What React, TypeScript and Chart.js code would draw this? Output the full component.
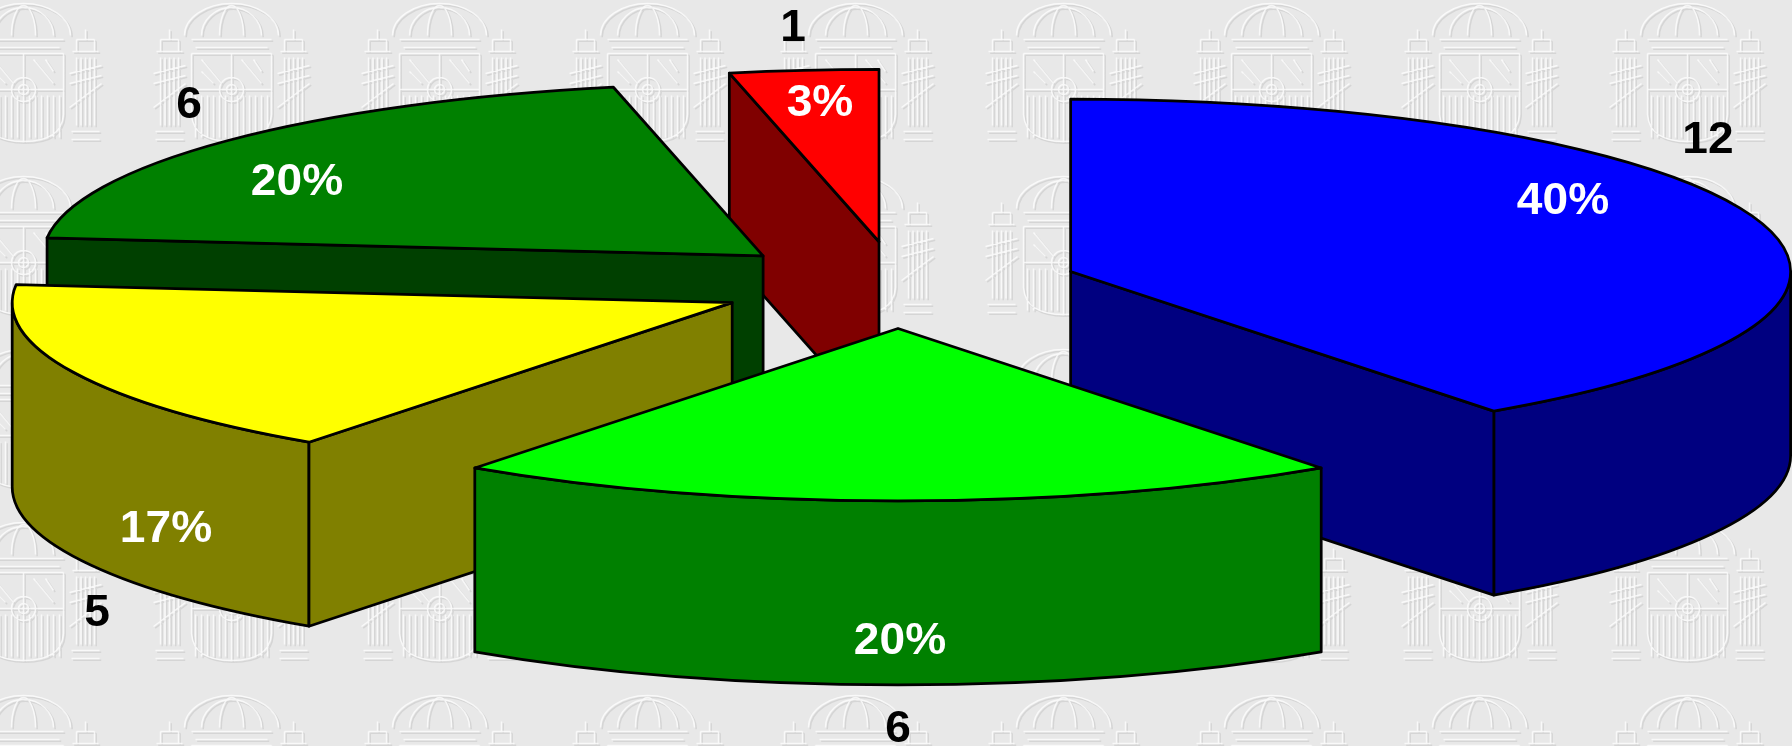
import React, { useEffect, useRef } from "react";
import { Chart, registerables } from "chart.js";

Chart.register(...registerables);

const categories = ["A", "B", "C", "D", "E"];
const counts = [12, 6, 5, 6, 1];
const percents = ["40%", "20%", "17%", "20%", "3%"];
const topColors = ["#0000ff", "#00ff00", "#ffff00", "#008000", "#ff0000"];
const wallColors = ["#000080", "#008000", "#808000", "#004000", "#800000"];

const W = 1792;
const H = 746;
const RADIUS = 720;
const TILT = 0.2395;
const EXPLODE = 181.5;
const DEPTH = 184;
const CX = 898;
const CY = 285;
// label anchors relative to the pie centre
const pctOffsets = [[665, -86], [2, 354], [-732, 242], [-601, -105], [-78, -184]];
const countOffsets = [[810, -147], [0, 442], [-801, 326], [-709, -182], [-105, -259]];

function emblemPath(c: CanvasRenderingContext2D, cx: number) {
  c.beginPath();
  // crown
  c.ellipse(cx, 36, 47, 32, 0, Math.PI, 2 * Math.PI);
  c.moveTo(cx - 30, 36);
  c.ellipse(cx, 36, 30, 28, 0, Math.PI, 2 * Math.PI);
  c.moveTo(cx - 12, 36);
  c.ellipse(cx, 36, 12, 30, 0, Math.PI, 2 * Math.PI);
  c.moveTo(cx - 40, 40);
  c.lineTo(cx + 40, 40);
  c.moveTo(cx - 36, 48);
  c.lineTo(cx + 36, 48);
  // shield
  c.moveTo(cx - 40, 54);
  c.lineTo(cx - 40, 115);
  c.quadraticCurveTo(cx - 38, 142, cx, 142);
  c.quadraticCurveTo(cx + 38, 142, cx + 40, 115);
  c.lineTo(cx + 40, 54);
  c.moveTo(cx - 40, 54);
  c.lineTo(cx + 40, 54);
  c.moveTo(cx - 40, 90);
  c.lineTo(cx + 40, 90);
  c.moveTo(cx, 54);
  c.lineTo(cx, 142);
  for (let i = -36; i <= 36; i += 6) {
    c.moveTo(cx + i, 96);
    c.lineTo(cx + i, 138);
  }
  c.moveTo(cx + 12, 90);
  c.arc(cx, 90, 12, 0, 2 * Math.PI);
  c.moveTo(cx + 5, 90);
  c.arc(cx, 90, 5, 0, 2 * Math.PI);
  c.moveTo(cx - 30, 60);
  c.lineTo(cx - 10, 84);
  c.moveTo(cx - 30, 72);
  c.lineTo(cx - 18, 84);
  c.moveTo(cx + 10, 60);
  c.lineTo(cx + 30, 84);
  c.moveTo(cx + 22, 60);
  c.lineTo(cx + 30, 72);
  // pillars
  for (const px of [cx - 62, cx + 62]) {
    c.moveTo(px - 13, 52);
    c.lineTo(px + 13, 52);
    c.moveTo(px - 9, 40);
    c.lineTo(px - 9, 52);
    c.moveTo(px + 9, 40);
    c.lineTo(px + 9, 52);
    c.moveTo(px - 9, 40);
    c.lineTo(px + 9, 40);
    c.moveTo(px, 40);
    c.lineTo(px, 30);
    for (let i = -9; i <= 9; i += 4.5) {
      c.moveTo(px + i, 58);
      c.lineTo(px + i, 126);
    }
    c.moveTo(px - 16, 74);
    c.lineTo(px + 16, 66);
    c.moveTo(px - 16, 84);
    c.lineTo(px + 16, 76);
    c.moveTo(px - 16, 108);
    c.lineTo(px + 16, 84);
    c.moveTo(px - 14, 132);
    c.lineTo(px + 14, 132);
    c.moveTo(px - 14, 140);
    c.lineTo(px + 14, 140);
  }
}

function makeTile(ctx: CanvasRenderingContext2D) {
  const t = document.createElement("canvas");
  t.width = 208;
  t.height = 173;
  const c = t.getContext("2d")!;
  c.fillStyle = "#e8e8e8";
  c.fillRect(0, 0, t.width, t.height);
  const cx = 105;
  c.lineWidth = 1.5;
  c.filter = "blur(0.7px)";
  c.save();
  c.translate(1.2, 1.2);
  c.strokeStyle = "rgba(185,185,185,0.4)";
  emblemPath(c, cx);
  c.stroke();
  c.restore();
  c.save();
  c.translate(-0.5, -0.5);
  c.strokeStyle = "rgba(255,255,255,0.75)";
  emblemPath(c, cx);
  c.stroke();
  c.restore();
  return ctx.createPattern(t, "repeat")!;
}

const backdrop = {
  id: "backdrop",
  beforeDraw(chart: any) {
    const { ctx } = chart;
    ctx.save();
    // tile shifted so the emblems fall on the same columns as the reference
    ctx.translate(-81, 0);
    ctx.fillStyle = makeTile(ctx);
    ctx.fillRect(0, 0, W + 81, H);
    ctx.restore();
  },
};

const pie3d = {
  id: "pie3d",
  beforeDatasetDraw(chart: any, args: any) {
    const { ctx } = chart;
    const arcs = args.meta.data.map((arc: any, i: number) => {
      const mid = (arc.startAngle + arc.endAngle) / 2;
      return {
        arc,
        i,
        x: arc.x + Math.cos(mid) * EXPLODE,
        y: arc.y + Math.sin(mid) * EXPLODE * TILT,
      };
    });
    arcs.sort((a: any, b: any) => a.y - b.y);
    ctx.save();
    ctx.lineWidth = 2.75;
    ctx.lineJoin = "round";
    ctx.strokeStyle = "#000";
    for (const s of arcs) {
      const r = s.arc.outerRadius;
      const ry = r * TILT;
      const a0 = s.arc.startAngle;
      const a1 = s.arc.endAngle;
      ctx.fillStyle = wallColors[s.i];
      const cut = (a: number) => {
        ctx.beginPath();
        ctx.moveTo(s.x, s.y);
        ctx.lineTo(s.x + Math.cos(a) * r, s.y + Math.sin(a) * ry);
        ctx.lineTo(s.x + Math.cos(a) * r, s.y + Math.sin(a) * ry + DEPTH);
        ctx.lineTo(s.x, s.y + DEPTH);
        ctx.closePath();
        ctx.fill();
        ctx.stroke();
      };
      // rim wall: only the arc part on the front half of the ellipse
      const from = Math.max(a0, 0);
      const to = Math.min(a1, Math.PI);
      if (to > from) {
        ctx.beginPath();
        ctx.ellipse(s.x, s.y, r, ry, 0, from, to);
        ctx.ellipse(s.x, s.y + DEPTH, r, ry, 0, to, from, true);
        ctx.closePath();
        ctx.fill();
        ctx.stroke();
      }
      if (-Math.cos(a0) > 1e-6) cut(a0);
      if (Math.cos(a1) > 1e-6) cut(a1);
      // top face: the library's own arc, squashed into perspective
      ctx.save();
      ctx.translate(s.x, s.y);
      ctx.scale(1, TILT);
      ctx.translate(-s.arc.x, -s.arc.y);
      s.arc.draw(ctx);
      ctx.restore();
      ctx.beginPath();
      ctx.moveTo(s.x, s.y);
      ctx.ellipse(s.x, s.y, r, ry, 0, a0, a1);
      ctx.closePath();
      ctx.stroke();
    }
    ctx.restore();
    return false;
  },
  afterDraw(chart: any) {
    const { ctx } = chart;
    const arc0 = chart.getDatasetMeta(0).data[0];
    const put = (text: string, x: number, y: number) => {
      ctx.save();
      ctx.translate(x, y);
      ctx.scale(1.06, 1);
      ctx.fillText(text, 0, 0);
      ctx.restore();
    };
    ctx.save();
    ctx.font = 'bold 43.5px "Liberation Sans", Arial, sans-serif';
    ctx.textAlign = "center";
    ctx.textBaseline = "middle";
    counts.forEach((v, i) => {
      ctx.fillStyle = "#fff";
      put(percents[i], arc0.x + pctOffsets[i][0], arc0.y + pctOffsets[i][1] + 3);
      ctx.fillStyle = "#000";
      put(String(v), arc0.x + countOffsets[i][0], arc0.y + countOffsets[i][1] + 3);
    });
    ctx.restore();
  },
};

export default function App() {
  const ref = useRef<HTMLCanvasElement>(null);
  useEffect(() => {
    document.body.style.margin = "0";
    const chart = new Chart(ref.current!, {
      type: "pie",
      data: {
        labels: categories,
        datasets: [{ data: counts, backgroundColor: topColors, borderWidth: 0 }],
      },
      options: {
        responsive: false,
        animation: false,
        radius: RADIUS,
        layout: { padding: { left: CX * 2 - W, bottom: H - CY * 2 } },
        plugins: { legend: { display: false }, tooltip: { enabled: false } },
      },
      plugins: [backdrop, pie3d],
    } as any);
    return () => chart.destroy();
  }, []);
  return <canvas ref={ref} width={W} height={H} style={{ display: "block" }} />;
}
